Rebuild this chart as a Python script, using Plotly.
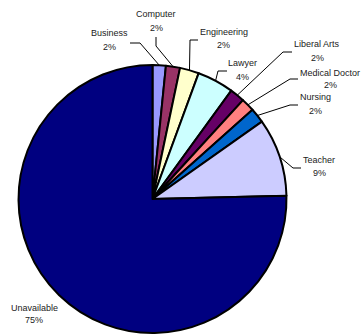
import math
import plotly.graph_objects as go

# Career categories and their shares (percent of respondents)
careers = ["Business", "Computer", "Engineering", "Lawyer", "Liberal Arts",
           "Medical Doctor", "Nursing", "Teacher", "Unavailable"]
shares = [1.6, 1.7, 2.3, 4.4, 1.8, 1.6, 1.8, 9.4, 75.4]
colors = ["#9999FF", "#993366", "#FFFFCC", "#CCFFFF", "#660066",
          "#FF8080", "#0066CC", "#CCCCFF", "#000080"]

W, H = 361, 335
CX, CY, R = 152.5, 199.0, 134.0          # pie centre and radius in pixels


def px(x):
    return x / W


def py(y):
    return 1 - y / H


# Label placement: (name line centre x, name line y, percent line y),
# and leader line knee/end points (None = no leader)
label_pos = {
    "Business": (110, 33, 47, (140, 43), (130, 43)),
    "Computer": (156, 14, 28, (156, 46), (156, 37)),
    "Engineering": (224, 32, 45, (190, 40), (198, 40)),
    "Lawyer": (242, 63, 77, (218, 71), (227, 71)),
    "Liberal Arts": (317, 44, 58, (283, 52), (292, 52)),
    "Medical Doctor": (330, 73, 85, (290, 79), (298, 79)),
    "Nursing": (315, 97, 111, (290, 105), (298, 105)),
    "Teacher": (319, 160, 173, (293, 168), (301, 168)),
    "Unavailable": (34, 308, 320, None, None),
}

fig = go.Figure(go.Pie(
    labels=careers,
    values=shares,
    sort=False,
    direction="clockwise",
    rotation=0,
    textinfo="none",
    hoverinfo="label+percent",
    marker=dict(colors=colors, line=dict(color="black", width=2)),
    domain=dict(x=[px(CX - R), px(CX + R)], y=[py(CY + R), py(CY - R)]),
    showlegend=False,
))

total = sum(shares)
font = dict(family="Liberation Sans, Arial, sans-serif", size=9, color="#222")
annotations, shapes = [], []
cum = 0.0
for name, v in zip(careers, shares):
    mid = 2 * math.pi * (cum + v / 2) / total
    cum += v
    ax, ay = CX + R * math.sin(mid), CY - R * math.cos(mid)
    lx, ly1, ly2, knee, end = label_pos[name]
    pct = f"{round(v / total * 100)}%"
    for txt, yy in ((name, ly1), (pct, ly2)):
        annotations.append(dict(
            x=px(lx), y=py(yy), xref="paper", yref="paper", text=txt,
            showarrow=False, xanchor="center", yanchor="middle", font=font))
    if knee is not None:
        path = (f"M {px(ax)},{py(ay)} L {px(knee[0])},{py(knee[1])} "
                f"L {px(end[0])},{py(end[1])}")
        shapes.append(dict(type="path", path=path, xref="paper", yref="paper",
                           line=dict(color="black", width=1)))

fig.update_layout(
    width=W, height=H,
    margin=dict(l=0, r=0, t=0, b=0),
    paper_bgcolor="white",
    plot_bgcolor="white",
    annotations=annotations,
    shapes=shapes,
)

fig.write_html("out.html")
